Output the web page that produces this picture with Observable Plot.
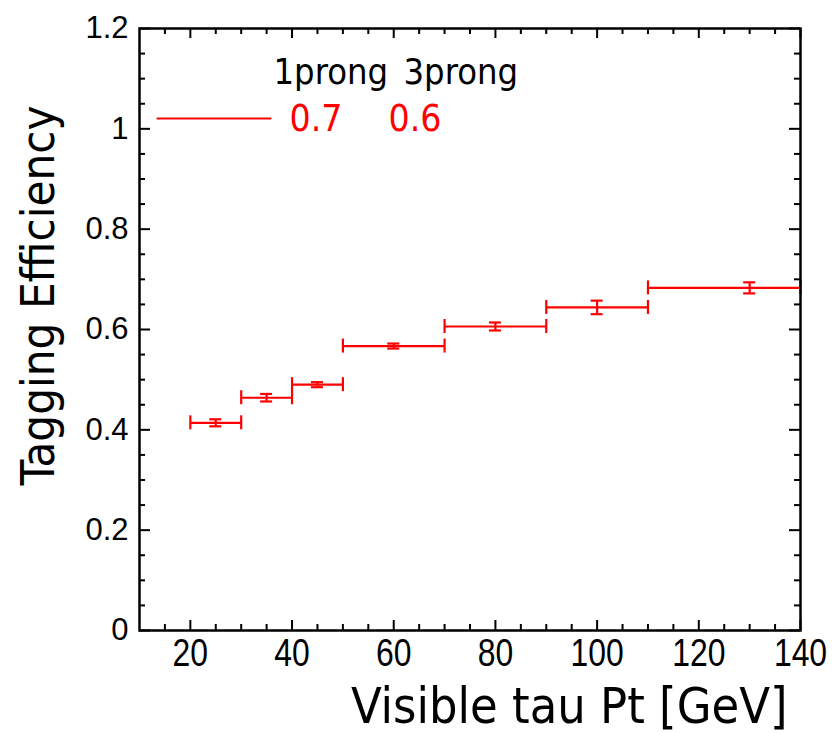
<!DOCTYPE html>
<html><head><meta charset="utf-8">
<script src="https://cdn.jsdelivr.net/npm/d3@7"></script>
<script src="https://cdn.jsdelivr.net/npm/@observablehq/plot@0.6"></script>
<style>html,body{margin:0;padding:0;background:#fff;}</style>
</head><body><div id="chart"></div>
<script>
// ---- data ----
const binLow = [20, 30, 40, 50, 70, 90, 110];
const binHigh = [30, 40, 50, 70, 90, 110, 140];
const binCenter = [25, 35, 45, 60, 80, 100, 130];
const efficiency = [0.414, 0.464, 0.490, 0.567, 0.606, 0.644, 0.683];
const effError = [0.007, 0.0075, 0.005, 0.005, 0.008, 0.0135, 0.011];
const xTicks = [20, 40, 60, 80, 100, 120, 140];
const xMinorTicks = [15, 25, 30, 35, 45, 50, 55, 65, 70, 75, 85, 90, 95, 105, 110, 115, 125, 130, 135];
const yTicks = [0, 0.2, 0.4, 0.6, 0.8, 1, 1.2];
const yMinorTicks = [0.05, 0.1, 0.15, 0.25, 0.3, 0.35, 0.45, 0.5, 0.55, 0.65, 0.7, 0.75, 0.85, 0.9, 0.95, 1.05, 1.1, 1.15];
const legendHeaders = ["1prong", "3prong"];
const legendValues = ["0.7", "0.6"];
const xTitle = "Visible tau Pt [GeV]";
const yTitle = "Tagging Efficiency";

// ---- layout ----
const W = 832, H = 733, mL = 139, mR = 32, mT = 28, mB = 103;
const fw = W - mL - mR, fh = H - mT - mB;
const red = "#ff0000";
const cond = "DejaVu Sans Condensed, DejaVu Sans, sans-serif";
const tickFont = "Liberation Sans, Arial, sans-serif";

const bins = binCenter.map((c, i) => ({lo: binLow[i], hi: binHigh[i], x: c, y: efficiency[i], e: effError[i]}));

const lineShape = {draw(context, l) { context.moveTo(0, 0); context.lineTo(0, -l); }};
const tickStyle = {stroke: "#000", strokeWidth: 2};
const errStyle = {stroke: red, strokeWidth: 2.2};

const chart = Plot.plot({
  width: W, height: H,
  marginLeft: mL, marginRight: mR, marginTop: mT, marginBottom: mB,
  x: {domain: [10, 140]},
  y: {domain: [0, 1.2]},
  style: {background: "#fff", color: "#000"},
  marks: [
    // inward ticks on all four sides
    Plot.tickX(xTicks, {insetTop: fh - 10, ...tickStyle}),
    Plot.tickX(xTicks, {insetBottom: fh - 10, ...tickStyle}),
    Plot.tickX(xMinorTicks, {insetTop: fh - 6, ...tickStyle}),
    Plot.tickX(xMinorTicks, {insetBottom: fh - 6, ...tickStyle}),
    Plot.tickY(yTicks, {insetRight: fw - 11, ...tickStyle}),
    Plot.tickY(yTicks, {insetLeft: fw - 11, ...tickStyle}),
    Plot.tickY(yMinorTicks, {insetRight: fw - 6, ...tickStyle}),
    Plot.tickY(yMinorTicks, {insetLeft: fw - 6, ...tickStyle}),
    // tick labels
    Plot.axisX({ticks: xTicks, tickSize: 0, tickPadding: 9, fontSize: 38, fontFamily: tickFont, label: null, tickFormat: d => String(d)}),
    Plot.axisY({ticks: yTicks, tickSize: 0, tickPadding: 11, fontSize: 31, fontFamily: tickFont, label: null, tickFormat: d => String(d)}),
    // horizontal bin bars with end caps
    Plot.ruleY(bins, {y: "y", x1: "lo", x2: "hi", ...errStyle}),
    Plot.ruleX(bins, {x: "lo", y1: "y", y2: "y", insetTop: -7, insetBottom: -7, ...errStyle}),
    Plot.ruleX(bins, {x: "hi", y1: "y", y2: "y", insetTop: -7, insetBottom: -7, ...errStyle}),
    // vertical error bars with caps
    Plot.ruleX(bins, {x: "x", y1: d => d.y - d.e, y2: d => d.y + d.e, ...errStyle}),
    Plot.ruleY(bins, {y: d => d.y - d.e, x1: "x", x2: "x", insetLeft: -6, insetRight: -6, ...errStyle}),
    Plot.ruleY(bins, {y: d => d.y + d.e, x1: "x", x2: "x", insetLeft: -6, insetRight: -6, ...errStyle}),
    // legend
    Plot.vector([0], {frameAnchor: "top-left", dx: 18, dy: 90, rotate: 90, length: 113, anchor: "start", shape: lineShape, ...errStyle}),
    Plot.text([legendHeaders[0]], {frameAnchor: "top-left", dx: 134, dy: 55, textAnchor: "start", lineAnchor: "bottom", fontSize: 36, fontFamily: cond, fill: "#000"}),
    Plot.text([legendHeaders[1]], {frameAnchor: "top-left", dx: 264, dy: 55, textAnchor: "start", lineAnchor: "bottom", fontSize: 36, fontFamily: cond, fill: "#000"}),
    Plot.text([legendValues[0]], {frameAnchor: "top-left", dx: 150, dy: 102, textAnchor: "start", lineAnchor: "bottom", fontSize: 37, fontFamily: cond, fill: red}),
    Plot.text([legendValues[1]], {frameAnchor: "top-left", dx: 249, dy: 102, textAnchor: "start", lineAnchor: "bottom", fontSize: 37, fontFamily: cond, fill: red}),
    // axis titles
    Plot.text([yTitle], {frameAnchor: "left", dx: -86, dy: -34, rotate: -90, textAnchor: "middle", lineAnchor: "bottom", fontSize: 47, fontFamily: cond, fill: "#000"}),
    Plot.text([xTitle], {frameAnchor: "bottom-right", dx: -13, dy: 92, textAnchor: "end", lineAnchor: "bottom", fontSize: 50, fontFamily: cond, fill: "#000"}),
    Plot.frame({stroke: "#000", strokeWidth: 2.5})
  ]
});
// narrow the x tick labels horizontally, as in the reference
d3.select(chart).selectAll('g[aria-label="x-axis tick label"] text')
  .attr("transform", function() { return (this.getAttribute("transform") || "") + " scale(0.84,1)"; });
document.getElementById("chart").appendChild(chart);
</script>
</body></html>
